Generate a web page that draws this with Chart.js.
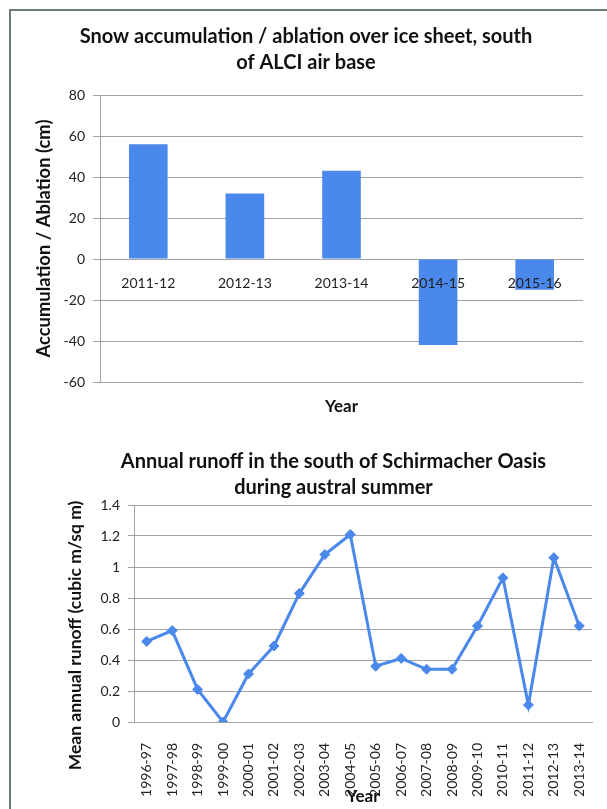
<!DOCTYPE html>
<html>
<head>
<meta charset="utf-8">
<script src="https://cdn.jsdelivr.net/npm/chart.js@4.4.1/dist/chart.umd.min.js"></script>
<style>
  html, body { margin: 0; padding: 0; background: #fff; }
  #page { position: relative; width: 607px; height: 809px; overflow: hidden; }
  #frame { position: absolute; left: 9px; top: 9px; right: -4px; bottom: -4px;
           border-left: 2px solid #6f7b75; border-top: 2px solid #6f7b75; }
  canvas { position: absolute; left: 0; }
  #snowChart { top: 0; }
  #runoffChart { top: 420px; }
</style>
</head>
<body>
<div id="page">
  <div id="frame"></div>
  <canvas id="snowChart" width="607" height="420"></canvas>
  <canvas id="runoffChart" width="607" height="389"></canvas>
</div>
<script>
// snow accumulation / ablation per season (cm)
const snowSeasons = ["2011-12", "2012-13", "2013-14", "2014-15", "2015-16"];
const snowChange = [56, 32, 43, -42, -15];
const snowTicks = { min: -60, max: 80, step: 20 };

// mean annual runoff (cubic m / sq m)
const runoffSeasons = [
  "1996-97", "1997-98", "1998-99", "1999-00", "2000-01", "2001-02",
  "2002-03", "2003-04", "2004-05", "2005-06", "2006-07", "2007-08",
  "2008-09", "2009-10", "2010-11", "2011-12", "2012-13", "2013-14"
];
const runoffValues = [
  0.52, 0.59, 0.21, 0.00, 0.31, 0.49,
  0.83, 1.08, 1.21, 0.36, 0.41, 0.34,
  0.34, 0.62, 0.93, 0.11, 1.06, 0.62
];
const runoffTicks = { min: 0, max: 1.4, step: 0.2 };

const BLUE = "#4a88ec";
const GRID = "#a3a3a3";
const TEXT = "#222";

Chart.defaults.font.family = "Lato, 'Open Sans', sans-serif";
Chart.defaults.color = TEXT;
Chart.defaults.animation = false;

const tickFont = { size: 14 };
const yearFont = { family: "Lato", weight: "bold", size: 17, lineHeight: 1.2 };
const chartTitleFont = { family: "Lato", weight: "bold", size: 20, lineHeight: 1.3 };

// empty axis on the right, only used to reserve space so the title stays centred on the canvas
function spacerAxis(width) {
  return {
    type: "linear",
    position: "right",
    grid: { display: false, drawTicks: false },
    border: { display: false },
    ticks: { display: false },
    afterFit: (scale) => { scale.width = width; },
  };
}

// rotated axis title drawn by hand so it can sit lower than the plot centre
const runoffAxisTitle = {
  id: "runoffAxisTitle",
  afterDraw(chart) {
    const { ctx, chartArea } = chart;
    const y = (chartArea.top + chartArea.bottom) / 2 + 22;
    ctx.save();
    ctx.translate(75, y);
    ctx.rotate(-Math.PI / 2);
    ctx.font = "bold 17.5px Lato";
    ctx.fillStyle = "#111";
    ctx.textAlign = "center";
    ctx.textBaseline = "middle";
    ctx.fillText("Mean annual runoff (cubic m/sq m)", 0, 0);
    ctx.restore();
  },
};

function setupSnowChart() {
  const ctx = document.getElementById("snowChart").getContext("2d");
  new Chart(ctx, {
    type: "bar",
    data: {
      labels: snowSeasons,
      datasets: [{
        data: snowChange,
        backgroundColor: BLUE,
        barPercentage: 0.4,
        categoryPercentage: 1,
        xAxisID: "x",
        yAxisID: "y",
      }],
    },
    options: {
      responsive: false,
      devicePixelRatio: 1,
      layout: { padding: { left: 5, right: 0, top: 0, bottom: 0 } },
      plugins: {
        legend: { display: false },
        tooltip: { enabled: false },
        title: {
          display: true,
          text: ["Snow accumulation / ablation over ice sheet, south", "of ALCI air base"],
          font: chartTitleFont,
          color: "#111",
          padding: { top: 24, bottom: 19 },
        },
      },
      scales: {
        // category labels sit right under the zero line
        x: {
          position: { y: 0 },
          grid: { display: false, drawTicks: false },
          border: { color: GRID },
          ticks: { padding: 16, font: tickFont, z: 1, color: TEXT },
        },
        x2: {
          type: "category",
          position: "bottom",
          grid: { display: false, drawTicks: false },
          border: { display: false },
          ticks: { display: false },
          title: { display: true, text: "Year", font: yearFont, color: "#111", padding: { top: 0, bottom: 3 } },
          afterFit: (scale) => { scale.height = 38; },
        },
        y: {
          min: snowTicks.min,
          max: snowTicks.max,
          grid: { color: GRID, tickLength: 7 },
          border: { color: GRID },
          ticks: { stepSize: snowTicks.step, padding: 8, font: tickFont, color: TEXT },
          title: {
            display: true,
            text: "Accumulation / Ablation (cm)",
            font: { family: "Lato", weight: "bold", size: 18.4, lineHeight: 1.2 },
            color: "#111",
            padding: { top: 28, bottom: 0 },
          },
          afterFit: (scale) => { scale.width = 95; },
        },
        yR: spacerAxis(24),
      },
    },
  });
}

function setupRunoffChart() {
  const ctx = document.getElementById("runoffChart").getContext("2d");
  new Chart(ctx, {
    type: "line",
    data: {
      labels: runoffSeasons,
      datasets: [{
        data: runoffValues,
        borderColor: BLUE,
        backgroundColor: BLUE,
        borderWidth: 3,
        tension: 0,
        pointStyle: "rectRot",
        pointRadius: 5,
        pointBorderWidth: 1,
        yAxisID: "y",
      }],
    },
    options: {
      responsive: false,
      devicePixelRatio: 1,
      layout: { padding: { left: 60, right: 0, top: 0, bottom: 0 } },
      plugins: {
        legend: { display: false },
        tooltip: { enabled: false },
        title: {
          display: true,
          text: ["Annual runoff in the south of Schirmacher Oasis", "during austral summer"],
          font: chartTitleFont,
          color: "#111",
          padding: { top: 29, bottom: 4 },
        },
      },
      scales: {
        x: {
          offset: true,
          // invisible tick marks push the rotated labels down without widening the side padding
          grid: { display: true, drawOnChartArea: false, drawTicks: true, tickLength: 19, color: "rgba(0,0,0,0)" },
          border: { color: GRID },
          ticks: { padding: 2, minRotation: 90, maxRotation: 90, autoSkip: false, font: tickFont, color: TEXT },
          title: { display: true, text: "Year", font: yearFont, color: "#111", padding: { top: 0, bottom: 2 } },
          afterFit: (scale) => { scale.height = 87; },
        },
        y: {
          min: runoffTicks.min,
          max: runoffTicks.max,
          grid: { color: GRID, tickLength: 6 },
          border: { color: GRID },
          ticks: {
            stepSize: runoffTicks.step,
            padding: 8,
            font: tickFont,
            color: TEXT,
            callback: (v) => String(Number(v.toFixed(1))),
          },
          afterFit: (scale) => { scale.width = 74; },
        },
        yR: spacerAxis(15),
      },
    },
    plugins: [runoffAxisTitle],
  });
}

setupSnowChart();
setupRunoffChart();
</script>
</body>
</html>
